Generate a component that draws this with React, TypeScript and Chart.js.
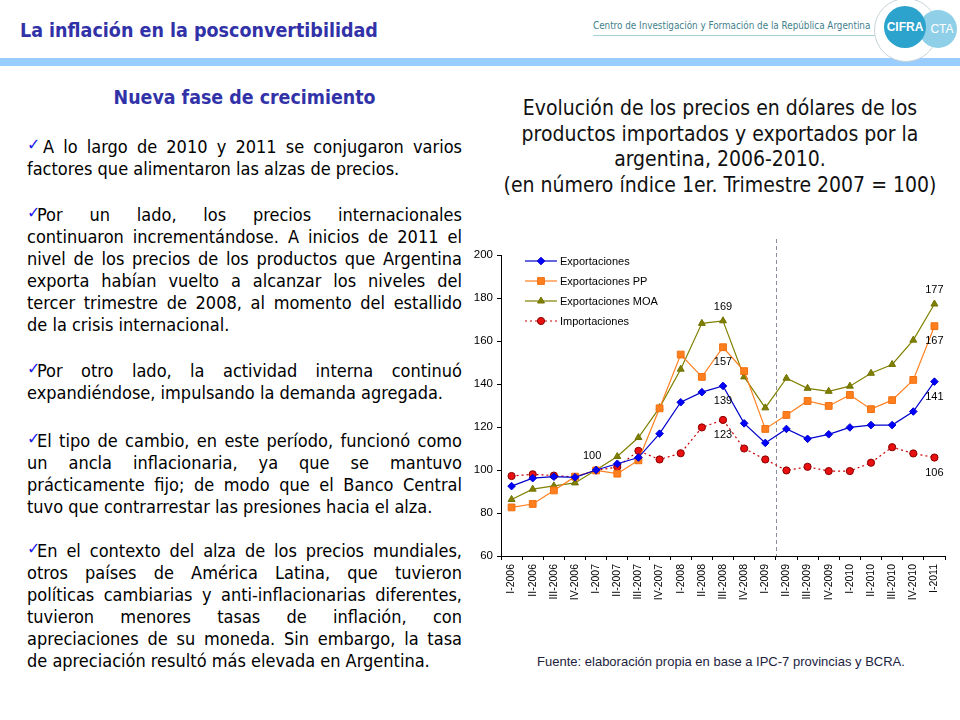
import React, { useEffect, useLayoutEffect, useRef } from "react";
import { Chart, registerables } from "chart.js";
import { drawPoint } from "chart.js/helpers";

Chart.register(...registerables);

// ---------- data ----------
const quarters = [
  "I-2006", "II-2006", "III-2006", "IV-2006",
  "I-2007", "II-2007", "III-2007", "IV-2007",
  "I-2008", "II-2008", "III-2008", "IV-2008",
  "I-2009", "II-2009", "III-2009", "IV-2009",
  "I-2010", "II-2010", "III-2010", "IV-2010",
  "I-2011",
];
const exportaciones = [92.5, 96.2, 96.9, 96.6, 100, 102.9, 105.8, 116.9, 131.5, 136.2, 139.1, 121.7, 112.6, 119.1, 114.5, 116.6, 119.8, 120.9, 120.9, 127.2, 141.1];
const exportacionesPP = [82.6, 84.2, 90.5, 96.9, 99.8, 98.3, 104.5, 128.7, 153.7, 143.3, 157.1, 146.0, 119.1, 125.6, 132.1, 129.8, 134.9, 128.3, 132.5, 141.9, 166.9];
const exportacionesMOA = [86.3, 91.1, 92.6, 94.0, 100, 106.3, 115.1, 129.0, 146.9, 168.2, 169.4, 143.3, 128.9, 142.7, 138.0, 136.6, 139.0, 145.0, 149.1, 160.4, 177.2];
const importaciones = [97.2, 98.0, 97.4, 96.8, 99.8, 101.4, 108.9, 104.9, 107.8, 119.8, 123.3, 110.0, 104.9, 99.8, 101.5, 99.5, 99.5, 103.4, 110.6, 107.7, 105.8];
const seriesNames = ["Exportaciones", "Exportaciones PP", "Exportaciones MOA", "Importaciones"];
const yMin = 60;
const yMax = 200;
const yStep = 20;
const dividerAfter = "I-2009";
// value labels: dataset index, category index, above/below
const valueLabels = [
  { series: 0, index: 4, pos: "above" },
  { series: 2, index: 10, pos: "above" },
  { series: 1, index: 10, pos: "below" },
  { series: 0, index: 10, pos: "below" },
  { series: 3, index: 10, pos: "below" },
  { series: 2, index: 20, pos: "above" },
  { series: 1, index: 20, pos: "below" },
  { series: 0, index: 20, pos: "below" },
  { series: 3, index: 20, pos: "below" },
];

const chartTitleLines = [
  "Evolución de los precios en dólares de los",
  "productos importados y exportados por la",
  "argentina, 2006-2010.",
  "(en número índice 1er. Trimestre 2007 = 100)",
];
const sourceNote = "Fuente: elaboración propia en base a IPC-7 provincias y BCRA.";

const paragraphs = [
  ["A lo largo de 2010 y 2011 se conjugaron varios", "factores que alimentaron las alzas de precios."],
  [
    "Por un lado, los precios internacionales",
    "continuaron incrementándose. A inicios de 2011 el",
    "nivel de los precios de los productos que Argentina",
    "exporta habían vuelto a alcanzar los niveles del",
    "tercer trimestre de 2008, al momento del estallido",
    "de la crisis internacional.",
  ],
  ["Por otro lado, la actividad interna continuó", "expandiéndose, impulsando la demanda agregada."],
  [
    "El tipo de cambio, en este período, funcionó como",
    "un ancla inflacionaria, ya que se mantuvo",
    "prácticamente fijo; de modo que el Banco Central",
    "tuvo que contrarrestar las presiones hacia el alza.",
  ],
  [
    "En el contexto del alza de los precios mundiales,",
    "otros países de América Latina, que tuvieron",
    "políticas cambiarias y anti-inflacionarias diferentes,",
    "tuvieron menores tasas de inflación, con",
    "apreciaciones de su moneda. Sin embargo, la tasa",
    "de apreciación resultó más elevada en Argentina.",
  ],
];
const paragraphGaps = [24, 24, 26, 22, 0];

const FONT = "'Liberation Sans', Arial, sans-serif";
const SLIDE_FONT = "'DejaVu Sans', sans-serif";
const COL_W = 435;

const overlayPlugin = {
  id: "overlay",
  beforeDatasetsDraw(chart: any) {
    const { ctx, chartArea, scales } = chart;
    const i = quarters.indexOf(dividerAfter);
    const x = (scales.x.getPixelForValue(i) + scales.x.getPixelForValue(i + 1)) / 2;
    ctx.save();
    ctx.strokeStyle = "#8c8c9c";
    ctx.lineWidth = 1;
    ctx.setLineDash([4, 3]);
    ctx.beginPath();
    ctx.moveTo(Math.round(x) + 0.5, chartArea.top - 16);
    ctx.lineTo(Math.round(x) + 0.5, chartArea.bottom);
    ctx.stroke();
    ctx.restore();
  },
  afterDatasetsDraw(chart: any) {
    const { ctx, chartArea, scales } = chart;
    ctx.save();
    ctx.font = `11px ${FONT}`;
    ctx.fillStyle = "#000";
    ctx.textAlign = "center";
    ctx.textBaseline = "middle";
    valueLabels.forEach((l) => {
      const v = chart.data.datasets[l.series].data[l.index];
      const x = scales.x.getPixelForValue(l.index) - (l.index === 4 ? 4 : 0);
      const y = scales.y.getPixelForValue(v) + (l.pos === "above" ? -14 : 15);
      ctx.fillText(String(Math.round(v)), x, y);
    });
    const x0 = chartArea.left + 24;
    chart.data.datasets.forEach((ds: any, k: number) => {
      const y = chartArea.top + 6 + k * 20;
      ctx.strokeStyle = ds.borderColor;
      ctx.lineWidth = ds.borderWidth;
      ctx.setLineDash(ds.borderDash || []);
      ctx.beginPath();
      ctx.moveTo(x0, y);
      ctx.lineTo(x0 + 32, y);
      ctx.stroke();
      ctx.setLineDash([]);
      ctx.fillStyle = ds.pointBackgroundColor;
      ctx.strokeStyle = ds.pointBorderColor;
      ctx.lineWidth = 1;
      drawPoint(ctx, { pointStyle: ds.pointStyle, radius: ds.pointRadius, rotation: 0, borderWidth: 1 }, x0 + 16, y);
      ctx.fillStyle = "#000";
      ctx.textAlign = "left";
      ctx.font = `11px ${FONT}`;
      ctx.fillText(ds.label, x0 + 35, y + 0.5);
    });
    ctx.restore();
  },
};

function LineChart() {
  const ref = useRef<HTMLCanvasElement>(null);
  useEffect(() => {
    if (!ref.current) return;
    const chart = new Chart(ref.current, {
      type: "line",
      data: {
        labels: quarters,
        datasets: [
          {
            label: seriesNames[0],
            data: exportaciones,
            borderColor: "#0000cc",
            borderWidth: 1.2,
            pointStyle: "rectRot",
            pointRadius: 3.8,
            pointBackgroundColor: "#0000ff",
            pointBorderColor: "#0000cc",
            pointBorderWidth: 1,
            tension: 0,
          },
          {
            label: seriesNames[1],
            data: exportacionesPP,
            borderColor: "#ff8020",
            borderWidth: 1.2,
            pointStyle: "rect",
            pointRadius: 4.8,
            pointBackgroundColor: "#ff7f1e",
            pointBorderColor: "#f07010",
            pointBorderWidth: 1,
            tension: 0,
          },
          {
            label: seriesNames[2],
            data: exportacionesMOA,
            borderColor: "#808000",
            borderWidth: 1.2,
            pointStyle: "triangle",
            pointRadius: 4,
            pointBackgroundColor: "#808000",
            pointBorderColor: "#707000",
            pointBorderWidth: 1,
            tension: 0,
          },
          {
            label: seriesNames[3],
            data: importaciones,
            borderColor: "#cc0000",
            borderWidth: 1.2,
            borderDash: [2, 3],
            pointStyle: "circle",
            pointRadius: 3.6,
            pointBackgroundColor: "#e81010",
            pointBorderColor: "#880000",
            pointBorderWidth: 1,
            tension: 0,
          },
        ],
      },
      options: {
        responsive: false,
        animation: false,
        devicePixelRatio: 1,
        layout: { padding: { top: 19, right: 11, left: 0, bottom: 0 } },
        plugins: {
          legend: { display: false },
          title: { display: false },
          tooltip: { enabled: false },
        },
        scales: {
          x: {
            type: "category",
            offset: true,
            grid: { display: true, drawOnChartArea: false, drawTicks: true, tickLength: 4, color: "#000", offset: true },
            border: { display: true, color: "#000", width: 1 },
            ticks: {
              autoSkip: false,
              maxRotation: 90,
              minRotation: 90,
              padding: 4,
              color: "#000",
              font: { family: FONT, size: 10.5 },
            },
            afterFit: (s: any) => {
              s.height = 60;
            },
          },
          y: {
            min: yMin,
            max: yMax,
            grid: { display: true, drawOnChartArea: false, drawTicks: true, tickLength: 4, color: "#000" },
            border: { display: true, color: "#000", width: 1 },
            ticks: {
              stepSize: yStep,
              padding: 4,
              color: "#000",
              font: { family: FONT, size: 11.5 },
            },
            afterFit: (s: any) => {
              s.width = 35;
            },
          },
        },
      } as any,
      plugins: [overlayPlugin],
    });
    return () => chart.destroy();
  }, []);
  return (
    <canvas
      ref={ref}
      width={490}
      height={380}
      style={{ position: "absolute", left: 466, top: 236, width: 490, height: 380 }}
    />
  );
}

function TextColumn() {
  const colRef = useRef<HTMLDivElement>(null);
  useLayoutEffect(() => {
    const col = colRef.current;
    if (!col) return;
    const lines = Array.from(col.querySelectorAll("[data-line]")) as HTMLDivElement[];
    lines.forEach((div) => {
      const span = div.firstElementChild as HTMLSpanElement;
      const prev = div.style.textAlignLast;
      div.style.textAlignLast = "left";
      const w = span.getBoundingClientRect().width;
      div.style.textAlignLast = prev;
      if (w > COL_W - 1) {
        const n = (span.textContent || "").length;
        span.style.letterSpacing = `${-(w - COL_W + 2) / n}px`;
      }
    });
  }, []);
  const check = (first: boolean) => (
    <span
      style={{
        color: "#1a1aee",
        display: "inline-block",
        width: first ? 16 : 10,
        height: 22,
        fontSize: 16,
        fontWeight: "bold",
        lineHeight: "22px",
        fontStretch: "normal",
        verticalAlign: "top",
        position: "relative",
        top: -2,
      }}
    >
      ✓
    </span>
  );
  return (
    <div
      ref={colRef}
      style={{ position: "absolute", left: 27, top: 136, width: COL_W, fontSize: 18, lineHeight: "22px", color: "#000" }}
    >
      {paragraphs.map((p, pi) => (
        <div key={pi} style={{ marginBottom: paragraphGaps[pi] }}>
          {p.map((line, li) => (
            <div
              key={li}
              data-line="1"
              style={{
                height: 22,
                whiteSpace: "nowrap",
                textAlign: "justify",
                textAlignLast: li === p.length - 1 ? "left" : "justify",
              }}
            >
              <span>
                {li === 0 ? check(pi === 0) : null}
                {line}
              </span>
            </div>
          ))}
        </div>
      ))}
    </div>
  );
}

export default function App() {
  return (
    <div
      style={{
        position: "absolute",
        left: 0,
        top: 0,
        width: 960,
        height: 720,
        background: "#fff",
        overflow: "hidden",
        fontFamily: SLIDE_FONT,
        fontStretch: "condensed",
      }}
    >
      {/* header */}
      <div
        style={{
          position: "absolute",
          left: 20,
          top: 19,
          fontSize: 19.5,
          fontWeight: "bold",
          color: "#3232a8",
          whiteSpace: "nowrap",
        }}
      >
        La inflación en la posconvertibilidad
      </div>
      <div
        style={{
          position: "absolute",
          left: 593,
          top: 20,
          fontSize: 9.8,
          color: "#3f7f8c",
          whiteSpace: "nowrap",
        }}
      >
        Centro de Investigación y Formación de la República Argentina
      </div>
      <div style={{ position: "absolute", left: 593, top: 35, width: 285, height: 1, background: "#a8cfd6" }} />
      <div style={{ position: "absolute", left: 0, top: 58, width: 960, height: 8, background: "#99ccff" }} />
      {/* logo */}
      <div
        style={{
          position: "absolute",
          left: 874,
          top: -2,
          width: 62,
          height: 62,
          borderRadius: "50%",
          background: "#fff",
          border: "1px solid #c8d4d8",
        }}
      />
      <div
        style={{
          position: "absolute",
          left: 919,
          top: 10,
          width: 38,
          height: 38,
          borderRadius: "50%",
          background: "#8fd0e8",
          color: "#fff",
          fontFamily: FONT,
          fontSize: 12,
          lineHeight: "38px",
          textAlign: "center",
        }}
      >
        <span style={{ marginLeft: 8 }}>CTA</span>
      </div>
      <div
        style={{
          position: "absolute",
          left: 884,
          top: 6,
          width: 42,
          height: 42,
          borderRadius: "50%",
          background: "#2ba3cc",
          color: "#fff",
          fontFamily: FONT,
          fontWeight: "bold",
          fontSize: 12,
          lineHeight: "42px",
          textAlign: "center",
        }}
      >
        CIFRA
      </div>

      {/* left column */}
      <div
        style={{
          position: "absolute",
          left: 27,
          top: 86,
          width: COL_W,
          textAlign: "center",
          fontSize: 19.4,
          fontWeight: "bold",
          color: "#3232a8",
        }}
      >
        Nueva fase de crecimiento
      </div>
      <TextColumn />

      {/* chart title */}
      <div
        style={{
          position: "absolute",
          left: 480,
          top: 96,
          width: 480,
          textAlign: "center",
          fontSize: 21,
          lineHeight: "25.7px",
          color: "#111",
        }}
      >
        {chartTitleLines.map((t, i) => (
          <div key={i} style={{ whiteSpace: "nowrap" }}>{t}</div>
        ))}
      </div>

      <LineChart />

      <div
        style={{
          position: "absolute",
          left: 480,
          top: 654,
          width: 482,
          textAlign: "center",
          fontFamily: FONT,
          fontStretch: "normal",
          fontSize: 13,
          color: "#1c2340",
          whiteSpace: "nowrap",
        }}
      >
        {sourceNote}
      </div>
    </div>
  );
}
